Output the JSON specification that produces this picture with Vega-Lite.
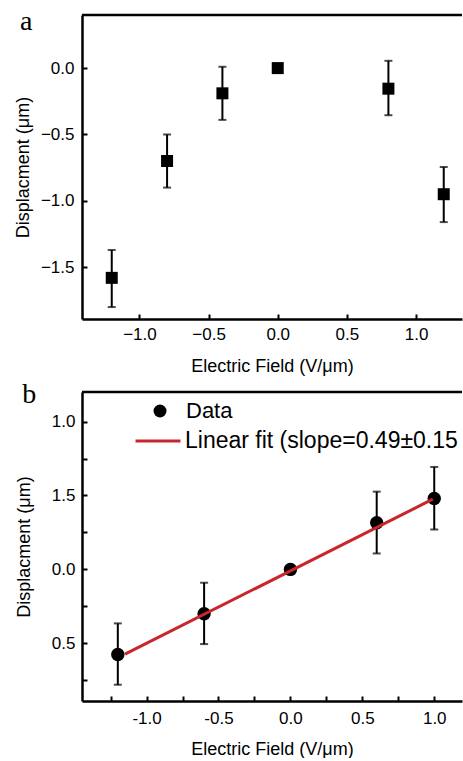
{
  "$schema": "https://vega.github.io/schema/vega-lite/v6.json",
  "padding": {"left": 14, "top": 8, "right": 0, "bottom": 0},
  "spacing": 5,
  "resolve": {"scale": {"x": "independent", "y": "independent", "fill": "independent", "stroke": "independent"}, "axis": {"x": "independent", "y": "independent"}, "legend": {"fill": "independent", "stroke": "independent"}},
  "config": {
    "view": {"stroke": null},
    "font": "Liberation Sans",
    "axis": {
      "domainColor": "black", "domainWidth": 2.5, "tickColor": "black", "tickWidth": 2, "tickSize": -5,
      "labelColor": "black", "labelFont": "Liberation Sans", "labelFontSize": 17,
      "titleFont": "Liberation Sans", "titleFontSize": 18, "titleFontWeight": "normal",
      "titleColor": "black", "grid": false, "labelOverlap": false, "labelFlush": false
    }
  },
  "vconcat": [
    {
      "width": 380, "height": 304,
      "layer": [
        {
          "data": {"values": [{"top": 0.4}]},
          "mark": {"type": "rule", "color": "black", "strokeWidth": 2.5},
          "encoding": {"y": {"field": "top", "type": "quantitative", "scale": {"domain": [-1.89, 0.4]}}}
        },
        {
          "data": {"values": [{"label": "a"}]},
          "mark": {"type": "text", "font": "Liberation Serif", "fontSize": 28, "align": "left", "baseline": "alphabetic", "color": "black"},
          "encoding": {
            "text": {"field": "label"},
            "x": {"datum": -1.863, "type": "quantitative"},
            "y": {"datum": 0.287, "type": "quantitative"}
          }
        },
        {
          "data": {"name": "panelA"},
          "mark": {"type": "rule", "color": "black", "strokeWidth": 2},
          "encoding": {
            "x": {"field": "E", "type": "quantitative"},
            "y": {"field": "lo", "type": "quantitative"},
            "y2": {"field": "hi"}
          }
        },
        {
          "data": {"name": "panelA"},
          "mark": {"type": "tick", "orient": "horizontal", "size": 8, "thickness": 2, "color": "black"},
          "encoding": {
            "x": {"field": "E", "type": "quantitative"},
            "y": {"field": "lo", "type": "quantitative"}
          }
        },
        {
          "data": {"name": "panelA"},
          "mark": {"type": "tick", "orient": "horizontal", "size": 8, "thickness": 2, "color": "black"},
          "encoding": {
            "x": {"field": "E", "type": "quantitative"},
            "y": {"field": "hi", "type": "quantitative"}
          }
        },
        {
          "data": {"name": "panelA"},
          "mark": {"type": "point", "shape": "square", "filled": true, "size": 144, "opacity": 1},
          "encoding": {
            "x": {"field": "E", "type": "quantitative", "scale": {"domain": [-1.415, 1.332], "nice": false, "zero": false},
              "axis": {"title": "Electric Field (V/μm)", "tickCount": 6, "format": ".1f",
                "labelPadding": 12, "titlePadding": 15}},
            "y": {"field": "D", "type": "quantitative", "scale": {"domain": [-1.89, 0.4], "nice": false, "zero": false},
              "axis": {"title": "Displacment (μm)", "tickCount": 5, "format": ".1f",
                "labelPadding": 13, "titlePadding": 8}},
            "fill": {"field": "series", "type": "nominal", "scale": {"domain": ["Data"], "range": ["black"]}, "legend": null}
          }
        }
      ]
    },
    {
      "width": 380, "height": 309,
      "layer": [
        {
          "data": {"values": [{"top": 1.2}]},
          "mark": {"type": "rule", "color": "black", "strokeWidth": 2.5},
          "encoding": {"y": {"field": "top", "type": "quantitative", "scale": {"domain": [-0.89, 1.2]}}}
        },
        {
          "data": {"values": [{"label": "b"}]},
          "mark": {"type": "text", "font": "Liberation Serif", "fontSize": 28, "align": "left", "baseline": "alphabetic", "color": "black"},
          "encoding": {
            "text": {"field": "label"},
            "x": {"datum": -1.865, "type": "quantitative"},
            "y": {"datum": 1.126, "type": "quantitative"}
          }
        },
        {
          "data": {"name": "panelB"},
          "mark": {"type": "rule", "color": "black", "strokeWidth": 2},
          "encoding": {
            "x": {"field": "E", "type": "quantitative"},
            "y": {"field": "lo", "type": "quantitative"},
            "y2": {"field": "hi"}
          }
        },
        {
          "data": {"name": "panelB"},
          "mark": {"type": "tick", "orient": "horizontal", "size": 8, "thickness": 2, "color": "black"},
          "encoding": {
            "x": {"field": "E", "type": "quantitative"},
            "y": {"field": "lo", "type": "quantitative"}
          }
        },
        {
          "data": {"name": "panelB"},
          "mark": {"type": "tick", "orient": "horizontal", "size": 8, "thickness": 2, "color": "black"},
          "encoding": {
            "x": {"field": "E", "type": "quantitative"},
            "y": {"field": "hi", "type": "quantitative"}
          }
        },
        {
          "data": {"name": "panelB"},
          "mark": {"type": "point", "shape": "circle", "filled": true, "size": 180, "opacity": 1},
          "encoding": {
            "x": {"field": "E", "type": "quantitative", "scale": {"domain": [-1.449, 1.193], "nice": false, "zero": false},
              "axis": {"title": "Electric Field (V/μm)", "values": [-1.25, -1, -0.75, -0.5, -0.25, 0, 0.25, 0.5, 0.75, 1],
                "labelExpr": "abs(round(datum.value*4)) % 2 !== 0 ? '' : (datum.value < 0 ? '-' : '') + format(abs(datum.value), '.1f')",
                "labelPadding": 14, "titlePadding": 14}},
            "y": {"field": "D", "type": "quantitative", "scale": {"domain": [-0.89, 1.2], "nice": false, "zero": false},
              "axis": {"title": "Displacment (μm)", "values": [-0.75, -0.5, -0.25, 0, 0.25, 0.5, 0.75, 1],
                "labelExpr": "abs(round(datum.value*4)) % 2 !== 0 ? '' : datum.value === 0.5 ? '1.5' : datum.value === -0.5 ? '0.5' : format(datum.value, '.1f')",
                "labelPadding": 12, "titlePadding": 18}},
            "fill": {"field": "series", "type": "nominal", "scale": {"domain": ["Data"], "range": ["black"]},
              "legend": {"orient": "none", "legendX": 67, "legendY": 8, "title": null, "symbolType": "circle", "symbolSize": 169,
                "symbolStrokeWidth": 0, "labelFontSize": 22, "labelOffset": 15, "labelFont": "Liberation Sans", "labelColor": "black", "padding": 0, "labelLimit": 0}}
          }
        },
        {
          "data": {"name": "fit"},
          "mark": {"type": "line", "strokeWidth": 3},
          "encoding": {
            "x": {"field": "E", "type": "quantitative"},
            "y": {"field": "D", "type": "quantitative"},
            "stroke": {"field": "series", "type": "nominal", "scale": {"domain": ["Linear fit (slope=0.49±0.15"], "range": ["#c8262c"]},
              "legend": {"orient": "none", "legendX": 52, "legendY": 25, "title": null, "symbolType": "stroke", "symbolSize": 2025,
                "symbolStrokeWidth": 3, "labelFontSize": 23, "labelOffset": 3, "labelFont": "Liberation Sans", "labelColor": "black", "padding": 0, "labelLimit": 0}}
          }
        }
      ]
    }
  ],
  "datasets": {
    "panelA": [
      {"E": -1.2, "D": -1.58, "lo": -1.8, "hi": -1.37, "series": "Data"},
      {"E": -0.8, "D": -0.7, "lo": -0.9, "hi": -0.5, "series": "Data"},
      {"E": -0.4, "D": -0.19, "lo": -0.39, "hi": 0.01, "series": "Data"},
      {"E": 0.0, "D": 0.0, "lo": null, "hi": null, "series": "Data"},
      {"E": 0.8, "D": -0.155, "lo": -0.355, "hi": 0.055, "series": "Data"},
      {"E": 1.2, "D": -0.95, "lo": -1.16, "hi": -0.745, "series": "Data"}
    ],
    "panelB": [
      {"E": -1.2, "D": -0.575, "lo": -0.78, "hi": -0.365, "series": "Data"},
      {"E": -0.6, "D": -0.3, "lo": -0.505, "hi": -0.09, "series": "Data"},
      {"E": 0.0, "D": 0.0, "lo": null, "hi": null, "series": "Data"},
      {"E": 0.6, "D": 0.316, "lo": 0.108, "hi": 0.526, "series": "Data"},
      {"E": 1.0, "D": 0.48, "lo": 0.27, "hi": 0.693, "series": "Data"}
    ],
    "fit": [
      {"E": -1.15, "D": -0.573, "series": "Linear fit (slope=0.49±0.15"},
      {"E": 0.99, "D": 0.475, "series": "Linear fit (slope=0.49±0.15"}
    ]
  }
}
